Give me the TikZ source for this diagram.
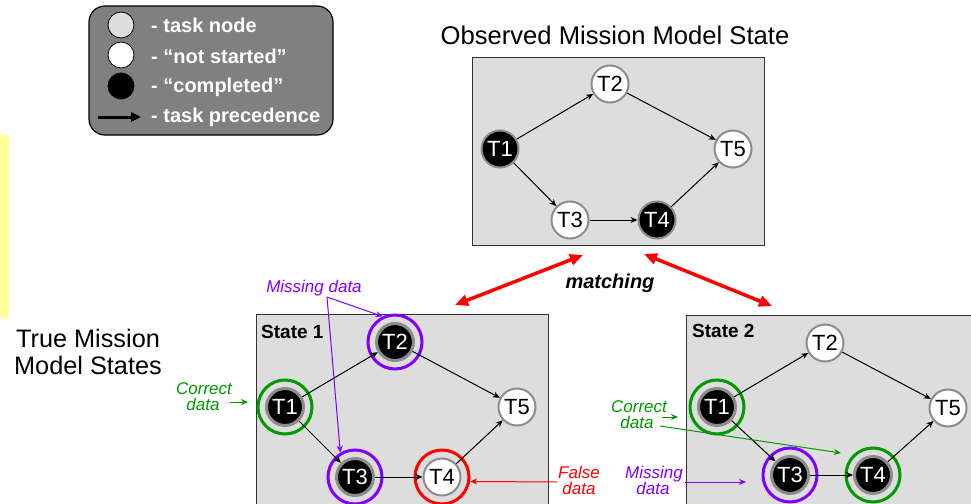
\documentclass[tikz,border=0pt]{standalone}
\usepackage{fontspec}
\setmainfont{Liberation Sans}
\usetikzlibrary{arrows.meta}
\definecolor{boxgray}{HTML}{DDDDDD}
\definecolor{leggray}{HTML}{808080}
\definecolor{ringgray}{HTML}{8C8C8C}
\definecolor{mgreen}{HTML}{009900}
\definecolor{mpurple}{HTML}{7F00FF}
\definecolor{myellow}{HTML}{FFFF99}
\tikzset{
 tnode/.style={circle, minimum size=37pt, inner sep=0pt, line width=2pt, draw=ringgray, font=\fontsize{22}{22}\selectfont},
 done/.style={tnode, fill=black, text=white},
 todo/.style={tnode, fill=white, text=black},
 sdone/.style={done, line width=3pt},
 ring/.style={circle, minimum size=54pt, inner sep=0pt, line width=3pt, draw=#1},
 prec/.style={-{Stealth[length=7pt,width=6pt]}, line width=1pt},
 frame/.style={fill=boxgray, draw=black!80, line width=0.8pt},
 note/.style={anchor=base, font=\fontsize{17}{17}\selectfont\itshape, inner sep=0pt},
 notearrow/.style={-{Stealth[length=7pt,width=6pt]}, line width=1pt},
 legtext/.style={anchor=west, text=white, inner sep=0pt, font=\bfseries\fontsize{20}{20}\selectfont},
 legcirc/.style={circle, minimum size=26pt, inner sep=0pt, line width=0.8pt, draw=black},
 big/.style={red, line width=3.5pt, {Triangle[length=13pt,width=11pt]}-{Triangle[length=13pt,width=11pt]}},
}
\begin{document}
\begin{tikzpicture}[x=1pt,y=-1pt]
\clip (0,0) rectangle (971,503);
\fill[white] (0,0) rectangle (971,503);
% yellow strip
\fill[myellow] (0,135) rectangle (9,318);
% legend
\draw[fill=leggray, draw=black, line width=1.2pt, rounded corners=16pt] (89,6) rectangle (333,135);
\node[legcirc, fill=boxgray] (lg1) at (121,25) {};
\node[legcirc, fill=white] (lg2) at (121,55) {};
\node[legcirc, fill=black] (lg3) at (121,86) {};
\coordinate (la1) at (98,117);
\coordinate (la2) at (141,117);
\draw[line width=3pt, -{Triangle[length=10pt,width=9pt]}] (la1) -- (la2);
\node[legtext] (lt1) at (151,25) {- task node};
\node[legtext] (lt2) at (151,56) {- “not started”};
\node[legtext] (lt3) at (151,87) {- “completed”};
\node[legtext] (lt4) at (151,117) {- task precedence};
% titles
\node[font=\fontsize{25.6}{25.6}\selectfont, inner sep=0pt] (title) at (615,35) {Observed Mission Model State};
\node[font=\fontsize{25.3}{27}\selectfont, align=center, inner sep=0pt] (truelab) at (88,352) {True Mission\\Model States};
% observed box
\draw[frame] (472,57) rectangle (764,245);
\node[done] (o1) at (500,149) {T1};
\node[todo] (o2) at (610,84) {T2};
\node[todo] (o3) at (570,220) {T3};
\node[done] (o4) at (657,220) {T4};
\node[todo] (o5) at (733,149) {T5};
\draw[prec] (o1) -- (o2);
\draw[prec] (o1) -- (o3);
\draw[prec] (o2) -- (o5);
\draw[prec] (o3) -- (o4);
\draw[prec] (o4) -- (o5);
% matching
\coordinate (m1a) at (455,305);
\coordinate (m1b) at (583,255);
\coordinate (m2a) at (644,254);
\coordinate (m2b) at (772,306);
\draw[big] (m1a) -- (m1b);
\draw[big] (m2a) -- (m2b);
\node[font=\bfseries\itshape\fontsize{20}{20}\selectfont, inner sep=0pt] (match) at (610,283) {matching};
% state 1
\draw[frame] (256,314) rectangle (548,530);
\node[anchor=west, inner sep=0pt, font=\bfseries\fontsize{19}{19}\selectfont] (s1lab) at (261,332) {State 1};
\node[ring=mgreen] (ra1) at (285,407) {};
\node[ring=mpurple] (ra2) at (395,342) {};
\node[ring=mpurple] (ra3) at (355,477) {};
\node[ring=red] (ra4) at (442,477) {};
\node[sdone] (a1) at (285,407) {T1};
\node[sdone] (a2) at (395,342) {T2};
\node[sdone] (a3) at (355,477) {T3};
\node[todo] (a4) at (442,477) {T4};
\node[todo] (a5) at (517,407) {T5};
\draw[prec] (a1) -- (a2);
\draw[prec] (a1) -- (a3);
\draw[prec] (a2) -- (a5);
\draw[prec] (a3) -- (a4);
\draw[prec] (a4) -- (a5);
% state 2
\draw[frame] (686,315) rectangle (990,530);
\node[anchor=west, inner sep=0pt, font=\bfseries\fontsize{19}{19}\selectfont] (s2lab) at (692,331) {State 2};
\node[ring=mgreen] (rb1) at (717,407) {};
\node[ring=mpurple] (rb3) at (790,475) {};
\node[ring=mgreen] (rb4) at (873,475) {};
\node[sdone] (b1) at (717,407) {T1};
\node[todo] (b2) at (825,343) {T2};
\node[sdone] (b3) at (790,475) {T3};
\node[sdone] (b4) at (873,475) {T4};
\node[todo] (b5) at (948,408) {T5};
\draw[prec] (b1) -- (b2);
\draw[prec] (b1) -- (b3);
\draw[prec] (b2) -- (b5);
\draw[prec] (b3) -- (b4);
\draw[prec] (b4) -- (b5);
% annotations state 1
\node[note, text=mpurple] (md1) at (314,292) {Missing data};
\coordinate (md1s) at (327,297);
\draw[notearrow, mpurple] (md1s) -- (ra2.116);
\draw[notearrow, mpurple] (md1s) -- (ra3.121);
\node[note, text=mgreen] (cd1a) at (204,394) {Correct};
\node[note, text=mgreen] (cd1b) at (203,410) {data};
\coordinate (cd1s) at (230,402);
\coordinate (cd1e) at (248,402);
\draw[notearrow, mgreen] (cd1s) -- (cd1e);
\node[note, text=red] (fd1a) at (579,478) {False};
\node[note, text=red] (fd1b) at (579,494) {data};
\coordinate (fd1s) at (557,482);
\draw[notearrow, red] (fd1s) -- (ra4.-9);
% annotations state 2
\node[note, text=mgreen] (cd2a) at (639,412) {Correct};
\node[note, text=mgreen] (cd2b) at (637,428) {data};
\coordinate (cd2s) at (662,417);
\coordinate (cd2e) at (678,417);
\draw[notearrow, mgreen] (cd2s) -- (cd2e);
\coordinate (cd2l) at (660,426);
\coordinate (cd2m) at (841,453);
\draw[notearrow, mgreen] (cd2l) -- (cd2m);
\node[note, text=mpurple] (md2a) at (654,478) {Missing};
\node[note, text=mpurple] (md2b) at (653,494) {data};
\coordinate (md2s) at (685,482);
\coordinate (md2e) at (746,482);
\draw[notearrow, mpurple] (md2s) -- (md2e);
\end{tikzpicture}
\end{document}
